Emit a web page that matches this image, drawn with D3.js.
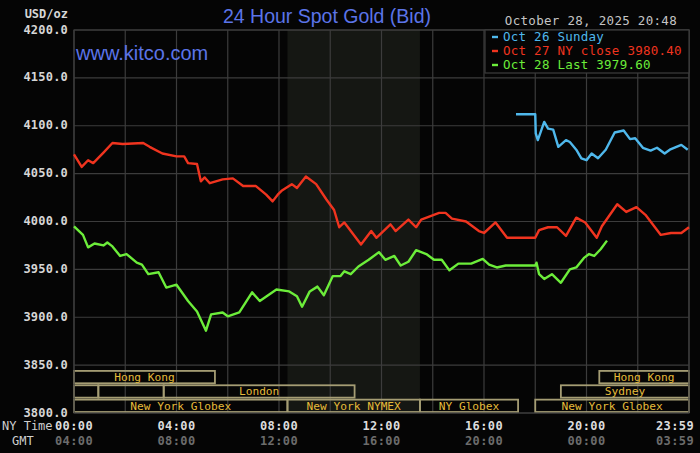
<!DOCTYPE html>
<html>
<head>
<meta charset="utf-8">
<script src="https://cdn.jsdelivr.net/npm/d3@7"></script>
<style>
  html, body { margin: 0; padding: 0; background: #050505; }
  svg { display: block; }
  .mono { font-family: "DejaVu Sans Mono", "Liberation Mono", monospace; }
</style>
</head>
<body>
<div id="chart"></div>
<script>
// price series, [NY hour, USD/oz]
var oct26Sunday = [
  [17.25, 4112], [18.0, 4112], [18.02, 4092], [18.1, 4085], [18.35, 4104], [18.5, 4097],
  [18.7, 4096], [18.9, 4078], [19.2, 4085], [19.35, 4083], [19.6, 4075], [19.8, 4066],
  [20.0, 4064], [20.2, 4071], [20.45, 4066], [20.75, 4075], [21.1, 4093], [21.45, 4095],
  [21.7, 4086], [21.9, 4087], [22.2, 4077], [22.5, 4074], [22.75, 4077], [23.05, 4071],
  [23.25, 4075], [23.7, 4080], [23.95, 4075]
];
var oct27Close = [
  [0, 4070], [0.3, 4057], [0.55, 4064], [0.75, 4061], [1.15, 4072], [1.5, 4082],
  [1.9, 4081], [2.7, 4082], [2.95, 4078], [3.45, 4071], [4.0, 4068], [4.3, 4068],
  [4.45, 4061], [4.8, 4060], [4.95, 4042], [5.1, 4046], [5.3, 4040], [5.8, 4044],
  [6.2, 4045], [6.6, 4037], [7.1, 4037], [7.5, 4028], [7.75, 4021], [7.95, 4028],
  [8.1, 4032], [8.5, 4039], [8.7, 4035], [9.05, 4047], [9.45, 4039], [9.85, 4023],
  [10.15, 4012], [10.35, 3994], [10.55, 3999], [10.75, 3992], [11.2, 3976], [11.6, 3990],
  [11.8, 3983], [12.35, 3997], [12.55, 3990], [13.05, 4002], [13.35, 3994], [13.55, 4002],
  [14.25, 4009], [14.5, 4009], [14.75, 4003], [15.3, 4000], [15.8, 3990], [16.0, 3988],
  [16.45, 3999], [16.9, 3983], [18.0, 3983], [18.15, 3991], [18.5, 3994], [18.85, 3994],
  [19.2, 3985], [19.6, 4004], [19.95, 3999], [20.4, 3983], [20.6, 3995], [21.2, 4018],
  [21.55, 4010], [21.95, 4015], [22.3, 4007], [22.9, 3986], [23.3, 3988], [23.7, 3988],
  [24.0, 3994]
];
var oct28Last = [
  [0, 3995], [0.35, 3986], [0.55, 3973], [0.8, 3977], [1.15, 3975], [1.3, 3978],
  [1.5, 3974], [1.8, 3964], [2.05, 3966], [2.45, 3957], [2.65, 3955], [2.9, 3945],
  [3.3, 3947], [3.6, 3931], [4.0, 3934], [4.45, 3917], [4.8, 3906], [5.15, 3886],
  [5.35, 3903], [5.8, 3905], [6.0, 3901], [6.45, 3905], [6.95, 3926], [7.25, 3917],
  [7.9, 3929], [8.4, 3927], [8.7, 3922], [8.9, 3911], [9.2, 3927], [9.5, 3932],
  [9.75, 3923], [10.1, 3943], [10.4, 3943], [10.55, 3948], [10.8, 3945], [11.1, 3953],
  [11.5, 3960], [11.9, 3968], [12.15, 3960], [12.5, 3964], [12.75, 3954], [13.05, 3958],
  [13.35, 3970], [13.75, 3966], [14.05, 3960], [14.35, 3960], [14.65, 3949], [15.0, 3956],
  [15.5, 3956], [15.95, 3961], [16.2, 3955], [16.5, 3952], [16.85, 3954], [18.0, 3954],
  [18.05, 3957], [18.15, 3945], [18.35, 3940], [18.65, 3945], [19.0, 3936], [19.35, 3950],
  [19.6, 3952], [19.9, 3962], [20.1, 3966], [20.3, 3964], [20.55, 3971], [20.8, 3980]
];

var seriesNames = ["Oct 26 Sunday", "Oct 27 NY close 3980.40", "Oct 28 Last 3979.60"];
var seriesColors = ["#4fb8ec", "#f0341f", "#6ced3a"];

var priceTicks = [3800, 3850, 3900, 3950, 4000, 4050, 4100, 4150, 4200];
var hourTicks = [0, 4, 8, 12, 16, 20, 24];
var nyLabels = ["00:00", "04:00", "08:00", "12:00", "16:00", "20:00", "23:59"];
var gmtLabels = ["04:00", "08:00", "12:00", "16:00", "20:00", "00:00", "03:59"];

// NYMEX pit hours (shaded)
var pitHours = [8.33, 13.5];

// trading sessions: row, start, end, label
var sessionRows = [0, 1, 2];
var sessions = [
  [0, 0, 5.5, "Hong Kong"],
  [0, 20.5, 24, "Hong Kong"],
  [1, 0, 0.95, ""],
  [1, 0.95, 3.5, ""],
  [1, 3.5, 10.95, "London"],
  [1, 19, 24, "Sydney"],
  [2, 0, 8.33, "New York Globex"],
  [2, 8.33, 13.5, "New York NYMEX"],
  [2, 13.5, 17.33, "NY Globex"],
  [2, 18, 24, "New York Globex"]
];

var W = 700, H = 453;
var plotLeft = 74, plotRight = 689, plotTop = 30, plotBottom = 413;

var svg = d3.select("#chart").append("svg")
  .attr("width", W).attr("height", H);

svg.append("rect").attr("width", W).attr("height", H).attr("fill", "#050505");

var x = d3.scaleLinear().domain([0, 24]).range([plotLeft, plotRight]);
var y = d3.scaleLinear().domain([3800, 4200]).range([plotBottom, plotTop]);

// shaded pit session
svg.append("rect")
  .attr("x", x(pitHours[0])).attr("y", plotTop)
  .attr("width", x(pitHours[1]) - x(pitHours[0]))
  .attr("height", plotBottom - plotTop)
  .attr("fill", "#151713");

// grid
var grid = svg.append("g").attr("stroke", "#3c3c3c").attr("stroke-width", 1.2);
grid.selectAll("line.h").data(priceTicks).enter().append("line")
  .attr("x1", plotLeft).attr("x2", plotRight)
  .attr("y1", function(d) { return y(d); }).attr("y2", function(d) { return y(d); });
grid.selectAll("line.v").data(d3.range(0, 25, 2)).enter().append("line")
  .attr("y1", plotTop).attr("y2", plotBottom)
  .attr("x1", function(d) { return x(d); }).attr("x2", function(d) { return x(d); });

// session boxes
var band = d3.scaleBand().domain(sessionRows).range([y(3845), plotBottom]);
var sess = svg.append("g").selectAll("g").data(sessions).enter().append("g");
sess.append("rect")
  .attr("x", function(d) { return x(d[1]); })
  .attr("y", function(d) { return band(d[0]) + 1; })
  .attr("width", function(d) { return x(d[2]) - x(d[1]); })
  .attr("height", band.bandwidth() - 2)
  .attr("fill", "none").attr("stroke", "#a59d74").attr("stroke-width", 1.8);
sess.append("text").classed("mono", true)
  .attr("x", function(d) { return (x(d[1]) + x(d[2])) / 2; })
  .attr("y", function(d) { return band(d[0]) + band.bandwidth() / 2 + 1; })
  .attr("text-anchor", "middle").attr("dominant-baseline", "middle")
  .attr("fill", "#e6bb3a").attr("font-size", 11.2)
  .text(function(d) { return d[3]; });

// plot border
svg.append("rect")
  .attr("x", plotLeft).attr("y", plotTop)
  .attr("width", plotRight - plotLeft).attr("height", plotBottom - plotTop)
  .attr("fill", "none").attr("stroke", "#3c3c3c").attr("stroke-width", 1.2);

// price lines
var line = d3.line()
  .x(function(d) { return x(d[0]); })
  .y(function(d) { return y(d[1]); });
var allSeries = [oct26Sunday, oct27Close, oct28Last];
svg.append("g").selectAll("path").data([1, 2, 0]).enter().append("path")
  .attr("d", function(i) { return line(allSeries[i]); })
  .attr("fill", "none")
  .attr("stroke", function(i) { return seriesColors[i]; })
  .attr("stroke-width", 2.4)
  .attr("stroke-linejoin", "round");

// y axis labels
svg.append("g").selectAll("text").data(priceTicks).enter().append("text")
  .classed("mono", true)
  .attr("x", 68).attr("y", function(d) { return y(d); })
  .attr("text-anchor", "end").attr("dominant-baseline", "middle")
  .attr("fill", "#d6d6d6").attr("font-size", 12).attr("font-weight", "bold")
  .attr("letter-spacing", 0.2)
  .text(function(d) { return d3.format(".1f")(d); });

svg.append("text").classed("mono", true)
  .attr("x", 68).attr("y", 14).attr("text-anchor", "end").attr("dominant-baseline", "middle")
  .attr("fill", "#d6d6d6").attr("font-size", 12).attr("font-weight", "bold")
  .text("USD/oz");

// x axis labels
function labelX(i) {
  var px = x(hourTicks[i]);
  return Math.min(px, W - 25);
}
svg.append("g").selectAll("text").data(nyLabels).enter().append("text")
  .classed("mono", true)
  .attr("x", function(d, i) { return labelX(i); }).attr("y", 426)
  .attr("text-anchor", "middle").attr("dominant-baseline", "middle")
  .attr("fill", "#dcdcdc").attr("font-size", 12).attr("font-weight", "bold")
  .attr("letter-spacing", 0.4)
  .text(function(d) { return d; });
svg.append("g").selectAll("text").data(gmtLabels).enter().append("text")
  .classed("mono", true)
  .attr("x", function(d, i) { return labelX(i); }).attr("y", 441)
  .attr("text-anchor", "middle").attr("dominant-baseline", "middle")
  .attr("fill", "#6c6c6c").attr("font-size", 12).attr("font-weight", "bold")
  .attr("letter-spacing", 0.4)
  .text(function(d) { return d; });
svg.append("text").classed("mono", true)
  .attr("x", 2).attr("y", 426).attr("dominant-baseline", "middle")
  .attr("fill", "#cfcfcf").attr("font-size", 12).text("NY Time");
svg.append("text").classed("mono", true)
  .attr("x", 12).attr("y", 441).attr("dominant-baseline", "middle")
  .attr("fill", "#cfcfcf").attr("font-size", 12).text("GMT");

// titles
svg.append("text")
  .attr("x", 327).attr("y", 23).attr("text-anchor", "middle")
  .attr("font-family", "'Liberation Sans', Arial, sans-serif").attr("font-size", 19.5)
  .attr("fill", "#5b74e8").text("24 Hour Spot Gold (Bid)");
svg.append("text")
  .attr("x", 76).attr("y", 60)
  .attr("font-family", "'Liberation Sans', Arial, sans-serif").attr("font-size", 20)
  .attr("fill", "#5b74e8").text("www.kitco.com");
svg.append("text").classed("mono", true)
  .attr("x", 677).attr("y", 21).attr("text-anchor", "end").attr("dominant-baseline", "middle")
  .attr("fill", "#c4c4c4").attr("font-size", 12.5).attr("letter-spacing", 0.3)
  .text("October 28, 2025 20:48");

// legend
var legend = svg.append("g");
legend.append("rect")
  .attr("x", 485).attr("y", plotTop).attr("width", plotRight - 485).attr("height", 43)
  .attr("fill", "#050505").attr("stroke", "#3c3c3c").attr("stroke-width", 1.2);
var items = legend.selectAll("g").data(seriesNames).enter().append("g")
  .attr("transform", function(d, i) { return "translate(492," + (37 + i * 14) + ")"; });
items.append("line")
  .attr("x1", 0).attr("x2", 6).attr("y1", 0).attr("y2", 0)
  .attr("stroke", function(d, i) { return seriesColors[i]; }).attr("stroke-width", 2.4);
items.append("text").classed("mono", true)
  .attr("x", 11).attr("y", 0).attr("dominant-baseline", "middle")
  .attr("fill", function(d, i) { return seriesColors[i]; })
  .attr("font-size", 12.5).attr("letter-spacing", 0.25)
  .text(function(d) { return d; });
</script>
</body>
</html>
